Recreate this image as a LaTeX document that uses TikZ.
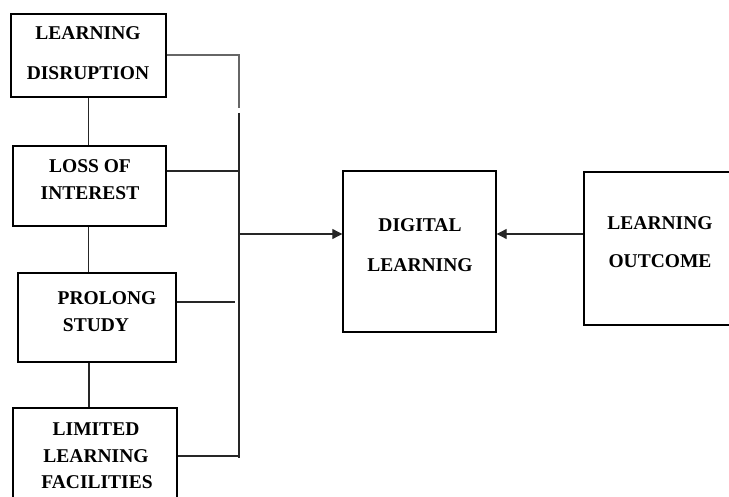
\documentclass[tikz,border=0pt]{standalone}
\usepackage{fontspec}
\setmainfont{Liberation Serif}
\usetikzlibrary{arrows.meta}
\begin{document}
\begin{tikzpicture}[x=1pt,y=-1pt,
  box/.style={draw=black,line width=1.4pt,inner sep=0pt,fill=none},
  txt/.style={anchor=base,inner sep=0pt,font=\fontsize{19.5}{19.5}\selectfont\bfseries},
  link/.style={draw=black!85,line width=1.1pt},
  arr/.style={link,-{Triangle[length=10pt,width=10pt]}}]
\clip (0,0) rectangle (729,497);
\fill[white] (0,0) rectangle (729,497);
% boxes
\node[box,minimum width=155pt,minimum height=83pt] (b1) at (88.5,55.5) {};
\node[box,minimum width=153pt,minimum height=80pt] (b2) at (89.5,186) {};
\node[box,minimum width=158pt,minimum height=89pt] (b3) at (97,317.5) {};
\node[box,minimum width=164pt,minimum height=120pt] (b4) at (95,468) {};
\node[box,minimum width=153pt,minimum height=161pt] (dl) at (419.5,251.5) {};
\node[box,minimum width=160pt,minimum height=153pt] (lo) at (664,248.5) {};
% texts
\node[txt] (t1a) at (88,40) {LEARNING};
\node[txt] (t1b) at (88,80) {DISRUPTION};
\node[txt] (t2a) at (90,173) {LOSS OF};
\node[txt] (t2b) at (90,200) {INTEREST};
\node[txt] (t3a) at (107,305) {PROLONG};
\node[txt] (t3b) at (96,332) {STUDY};
\node[txt] (t4a) at (96,435) {LIMITED};
\node[txt] (t4b) at (96,462) {LEARNING};
\node[txt] (t4c) at (97,488) {FACILITIES};
\node[txt] (tda) at (420,232) {DIGITAL};
\node[txt] (tdb) at (420,272) {LEARNING};
\node[txt] (toa) at (660,230) {LEARNING};
\node[txt] (tob) at (660,268) {OUTCOME};
% bus coordinates
\coordinate (bt) at (239,55);
\coordinate (bg1) at (239,108);
\coordinate (bg2) at (239,113);
\coordinate (bb) at (239,458);
\coordinate (bm) at (239,234);
\coordinate (p3) at (235,302);
% vertical chain
\draw[link] (b1.south) -- (b1.south |- b2.north);
\draw[link] ([xshift=-1pt]b2.south) -- ([xshift=-1pt]b2.south |- b3.north);
\draw[link] ([xshift=-8pt]b3.south) -- ([xshift=-8pt]b3.south |- b4.north);
% to bus
\draw[link,draw=black!60] (b1.east |- bt) -- (bt) -- (bg1);
\draw[link] (bg2) -- (bb);
\draw[link] (b2.east |- 0,171) -- (239,171);
\draw[link] (b3.east |- p3) -- (p3);
\draw[link] (b4.east |- 0,456) -- (239,456);
% arrows
\draw[arr] (bm) -- (dl.west |- bm);
\draw[arr] (lo.west |- bm) -- (dl.east |- bm);
\end{tikzpicture}
\end{document}
